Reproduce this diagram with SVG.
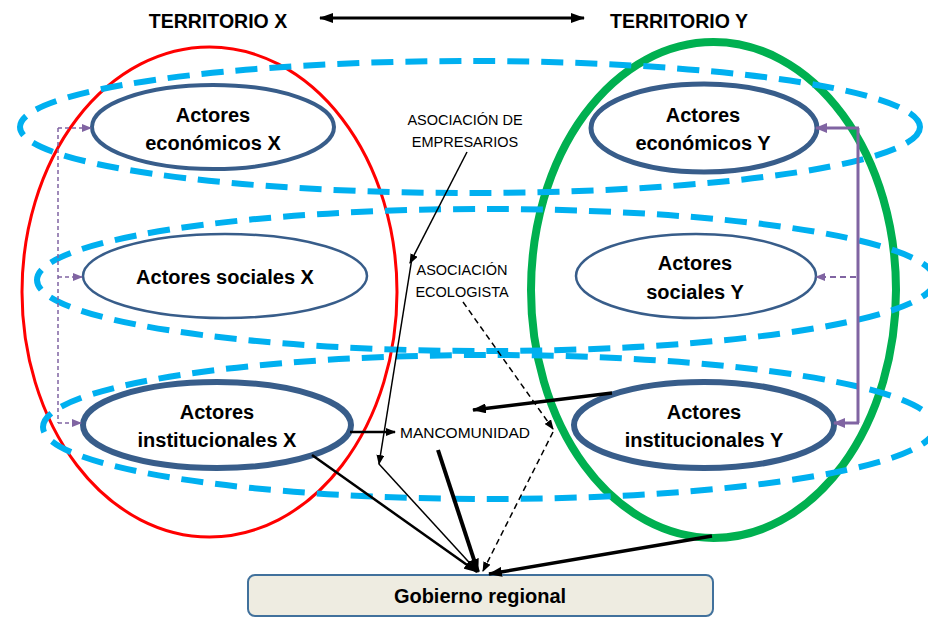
<svg xmlns="http://www.w3.org/2000/svg" width="928" height="620" viewBox="0 0 928 620">
<defs>
<style>
text{font-family:"Liberation Sans",Arial,sans-serif;fill:#000}
.title{font-size:19.5px;font-weight:bold}
.nt{font-size:20px;font-weight:bold;text-anchor:middle}
.lb{font-size:14.5px;text-anchor:middle}
.zone{fill:none;stroke:#00B0F0;stroke-width:6;stroke-dasharray:22 12}
.node{fill:#fff;stroke:#385D8A}
.blk{fill:none;stroke:#000}
.pur{fill:none;stroke:#8064A2}
</style>
<marker id="ab" viewBox="0 0 10 8" refX="9" refY="4" markerWidth="10" markerHeight="8" markerUnits="userSpaceOnUse" orient="auto"><path d="M0,0 L10,4 L0,8 z" fill="#000"/></marker>
<marker id="abl" viewBox="0 0 14 10" refX="13" refY="5" markerWidth="14" markerHeight="10" markerUnits="userSpaceOnUse" orient="auto-start-reverse"><path d="M0,0 L14,5 L0,10 z" fill="#000"/></marker>
<marker id="ap" viewBox="0 0 10 8" refX="9" refY="4" markerWidth="10" markerHeight="8" markerUnits="userSpaceOnUse" orient="auto"><path d="M0,0 L10,4 L0,8 z" fill="#8064A2"/></marker>
<marker id="apl" viewBox="0 0 12 10" refX="11" refY="5" markerWidth="12" markerHeight="10" markerUnits="userSpaceOnUse" orient="auto"><path d="M0,0 L12,5 L0,10 z" fill="#8064A2"/></marker>
</defs>
<rect width="928" height="620" fill="#fff"/>

<g id="territorios">
<ellipse cx="209.5" cy="292" rx="187.5" ry="245" fill="none" stroke="#FF0000" stroke-width="3"/>
<ellipse cx="713.5" cy="290" rx="182.5" ry="248" fill="none" stroke="#00B050" stroke-width="8"/>
</g>
<g id="zonas">
<ellipse class="zone" cx="470" cy="127" rx="450" ry="66"/>
<ellipse class="zone" cx="486" cy="280" rx="449" ry="71"/>
<ellipse class="zone" cx="489" cy="427" rx="446" ry="72"/>
</g>

<g id="titulos">
<text class="title" x="218" y="28" text-anchor="middle">TERRITORIO X</text>
<text class="title" x="679" y="28" text-anchor="middle">TERRITORIO Y</text>
</g>

<g id="n-econ-x"><ellipse class="node" cx="213" cy="127" rx="121" ry="42" stroke-width="4"/>
<text class="nt" x="213" y="122">Actores</text><text class="nt" x="213" y="150">económicos X</text></g>
<g id="n-soc-x"><ellipse class="node" cx="225" cy="276" rx="142" ry="42" stroke-width="2.5"/>
<text class="nt" x="225" y="284">Actores sociales X</text></g>
<g id="n-inst-x"><ellipse class="node" cx="217" cy="425" rx="134" ry="43" stroke-width="6"/>
<text class="nt" x="217" y="419">Actores</text><text class="nt" x="217" y="447">institucionales X</text></g>
<g id="n-econ-y"><ellipse class="node" cx="704" cy="128" rx="113" ry="44" stroke-width="5"/>
<text class="nt" x="703" y="122">Actores</text><text class="nt" x="703" y="150">económicos Y</text></g>
<g id="n-soc-y"><ellipse class="node" cx="696" cy="276" rx="120" ry="42" stroke-width="2.5"/>
<text class="nt" x="695" y="270">Actores</text><text class="nt" x="695" y="299">sociales Y</text></g>
<g id="n-inst-y"><ellipse class="node" cx="704" cy="425" rx="130" ry="43" stroke-width="6"/>
<text class="nt" x="704" y="419">Actores</text><text class="nt" x="704" y="447">institucionales Y</text></g>

<g id="n-empresarios"><text class="lb" x="465" y="125">ASOCIACIÓN DE</text><text class="lb" x="465" y="147">EMPRESARIOS</text></g>
<g id="n-ecologista"><text class="lb" x="462" y="275">ASOCIACIÓN</text><text class="lb" x="462" y="297">ECOLOGISTA</text></g>
<g id="n-mancomunidad"><text class="lb" x="465" y="438" style="font-size:15.5px">MANCOMUNIDAD</text></g>
<g id="n-gobierno"><rect x="248" y="575" width="465" height="41" rx="7" fill="#EEECE1" stroke="#41719C" stroke-width="2"/>
<text class="nt" x="480" y="603">Gobierno regional</text></g>

<g id="connectors">
<line class="blk" x1="320" y1="18" x2="584" y2="18" stroke-width="3" marker-start="url(#abl)" marker-end="url(#abl)"/>
<path class="pur" d="M58,128 V423" stroke-width="1.5" stroke-dasharray="4 3"/>
<path class="pur" d="M58,128 H91" stroke-width="1.5" stroke-dasharray="4 3" marker-end="url(#ap)"/>
<path class="pur" d="M58,277 H82" stroke-width="1.5" stroke-dasharray="4 3" marker-end="url(#ap)"/>
<path class="pur" d="M58,423 H81" stroke-width="1.5" stroke-dasharray="4 3" marker-end="url(#ap)"/>
<path class="pur" d="M858,128 V423" stroke-width="3"/>
<path class="pur" d="M859,128 H816" stroke-width="3" marker-end="url(#apl)"/>
<path class="pur" d="M859,423 H834" stroke-width="3" marker-end="url(#apl)"/>
<path class="pur" d="M856,277 H816" stroke-width="2" stroke-dasharray="6 4" marker-end="url(#ap)"/>
<line class="blk" x1="467" y1="152" x2="410" y2="263" stroke-width="1.5" marker-end="url(#ab)"/>
<line class="blk" x1="412" y1="258" x2="379" y2="464" stroke-width="1.5" marker-end="url(#ab)"/>
<line class="blk" x1="379" y1="464" x2="477" y2="571" stroke-width="1.5" marker-end="url(#ab)"/>
<line class="blk" x1="463" y1="302" x2="553" y2="429" stroke-width="1.5" stroke-dasharray="6 4" marker-end="url(#ab)"/>
<line class="blk" x1="553" y1="432" x2="483" y2="571" stroke-width="1.5" stroke-dasharray="6 4" marker-end="url(#ab)"/>
<line class="blk" x1="350" y1="432" x2="395" y2="432" stroke-width="2.5" marker-end="url(#ab)"/>
<line class="blk" x1="612" y1="393" x2="473" y2="410" stroke-width="3.5" marker-end="url(#abl)"/>
<line class="blk" x1="438" y1="450" x2="478" y2="572" stroke-width="4" marker-end="url(#abl)"/>
<line class="blk" x1="312" y1="455" x2="477" y2="572" stroke-width="2.5" marker-end="url(#abl)"/>
<line class="blk" x1="712" y1="536" x2="489" y2="574" stroke-width="3.5" marker-end="url(#abl)"/>
</g>
</svg>
